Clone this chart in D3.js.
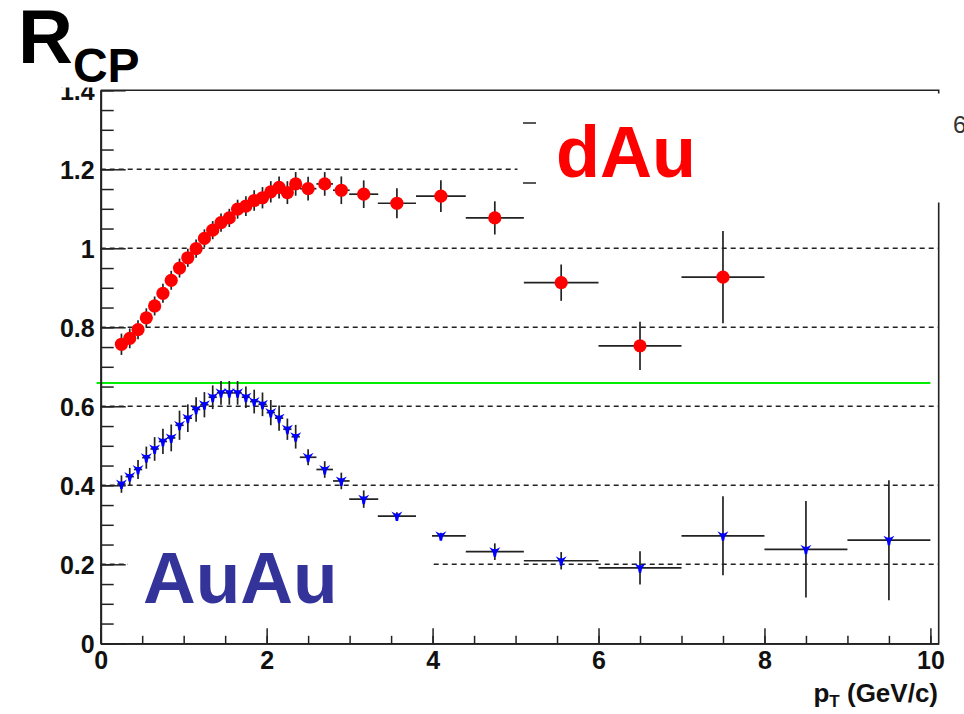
<!DOCTYPE html>
<html>
<head>
<meta charset="utf-8">
<script src="https://cdn.jsdelivr.net/npm/d3@7"></script>
<style>
  html, body { margin: 0; padding: 0; background: #fff; }
  svg { display: block; font-family: "Liberation Sans", Arial, Helvetica, sans-serif; }
</style>
</head>
<body>
<svg id="chart" width="964" height="714"></svg>
<script>
// ---- data -------------------------------------------------------------
// d+Au: bin centres (GeV/c), half bin widths, R_CP and statistical errors
const dauPt = [0.25,0.35,0.45,0.55,0.65,0.75,0.85,0.95,1.05,1.15,1.25,1.35,1.45,1.55,1.65,1.75,1.85,1.95,2.05,2.15,2.25,2.35,2.5,2.7,2.9,3.17,3.57,4.1,4.75,5.55,6.5,7.5];
const dauPtErr = [0.05,0.05,0.05,0.05,0.05,0.05,0.05,0.05,0.05,0.05,0.05,0.05,0.05,0.05,0.05,0.05,0.05,0.05,0.05,0.05,0.05,0.05,0.1,0.1,0.1,0.175,0.23,0.3,0.35,0.45,0.5,0.5];
const dauRcp = [0.757,0.772,0.794,0.824,0.854,0.886,0.919,0.950,0.976,0.999,1.025,1.046,1.065,1.077,1.099,1.107,1.121,1.128,1.143,1.154,1.141,1.163,1.151,1.163,1.147,1.137,1.114,1.132,1.077,0.913,0.753,0.927];
const dauErr = [0.027,0.025,0.024,0.024,0.024,0.024,0.024,0.024,0.023,0.023,0.023,0.023,0.023,0.023,0.024,0.025,0.026,0.027,0.027,0.028,0.029,0.030,0.030,0.030,0.035,0.035,0.038,0.040,0.042,0.046,0.061,0.117];

// Au+Au
const auPt = [0.25,0.35,0.45,0.55,0.65,0.75,0.85,0.95,1.05,1.15,1.25,1.35,1.45,1.55,1.65,1.75,1.85,1.95,2.05,2.15,2.25,2.35,2.5,2.7,2.9,3.17,3.57,4.1,4.75,5.55,6.5,7.5,8.5,9.5];
const auPtErr = [0.05,0.05,0.05,0.05,0.05,0.05,0.05,0.05,0.05,0.05,0.05,0.05,0.05,0.05,0.05,0.05,0.05,0.05,0.05,0.05,0.05,0.05,0.1,0.1,0.1,0.175,0.23,0.3,0.35,0.45,0.5,0.5,0.5,0.5];
const auRcp = [0.403,0.422,0.440,0.470,0.492,0.511,0.520,0.552,0.570,0.592,0.604,0.623,0.634,0.634,0.634,0.623,0.612,0.605,0.584,0.570,0.542,0.523,0.471,0.440,0.411,0.365,0.322,0.272,0.232,0.209,0.191,0.272,0.238,0.261];
const auErr = [0.022,0.022,0.024,0.028,0.030,0.032,0.034,0.037,0.035,0.031,0.032,0.030,0.030,0.030,0.030,0.027,0.030,0.030,0.032,0.032,0.027,0.030,0.020,0.021,0.021,0.022,0.010,0.008,0.021,0.022,0.042,0.100,0.122,0.152];

// axis ticks and reference level
const xMajor = [0,2,4,6,8,10];
const xMinor = d3.range(0, 10.01, 0.5);
const yMajor = [0,0.2,0.4,0.6,0.8,1.0,1.2,1.4];
const yMinor = d3.range(0, 1.401, 0.05);
const gridLevels = [0.2,0.4,0.6,0.8,1.0,1.2];
const refLevel = 0.659;

// ---- layout -----------------------------------------------------------
const svg = d3.select("#chart");
const x = d3.scaleLinear().domain([0, 10.1]).range([100.7, 938.7]);
const y = d3.scaleLinear().domain([0, 1.4]).range([643.3, 90.3]);
const [x0, x1] = x.range();
const [y0, y1] = y.range();
const ink = "#222";

// dashed horizontal grid
svg.append("g").selectAll("line").data(gridLevels).join("line")
  .attr("x1", x0).attr("x2", x1)
  .attr("y1", d => y(d)).attr("y2", d => y(d))
  .attr("stroke", ink).attr("stroke-width", 1.4)
  .attr("stroke-dasharray", "5,4");

// reference line
svg.append("line")
  .attr("x1", x(-0.05)).attr("x2", x(10.0))
  .attr("y1", y(refLevel)).attr("y2", y(refLevel))
  .attr("stroke", "#00ee00").attr("stroke-width", 2.2);

// frame (top and right)
svg.append("path")
  .attr("d", `M${x0},${y1}H${x1}V${y0}`)
  .attr("fill", "none").attr("stroke", ink).attr("stroke-width", 1.6);

// axes with ticks pointing into the frame
const fontTick = 25;
const xAxisMinor = d3.axisBottom(x).tickValues(xMinor).tickSize(-7.5).tickSizeOuter(0).tickFormat("");
const xAxisMajor = d3.axisBottom(x).tickValues(xMajor).tickSize(-15).tickSizeOuter(0).tickPadding(8)
  .tickFormat(d => String(d));
const yAxisMinor = d3.axisLeft(y).tickValues(yMinor).tickSize(-13).tickSizeOuter(0).tickFormat("");
const yAxisMajor = d3.axisLeft(y).tickValues(yMajor).tickSize(-25).tickSizeOuter(0).tickPadding(6)
  .tickFormat(d => String(+d.toFixed(1)));

function styleAxis(g) {
  g.selectAll("path").attr("stroke", ink).attr("stroke-width", 1.8);
  g.selectAll("line").attr("stroke", ink).attr("stroke-width", 1.5);
  g.selectAll("text").attr("fill", "#111").attr("font-weight", "bold")
    .attr("font-size", fontTick).attr("font-family", "'Liberation Sans', Arial, sans-serif");
}
svg.append("g").attr("transform", `translate(0,${y0})`).call(xAxisMinor).call(styleAxis);
svg.append("g").attr("transform", `translate(0,${y0})`).call(xAxisMajor).call(styleAxis)
  .selectAll("text").attr("dy", "0.72em");
svg.append("g").attr("transform", `translate(${x0},0)`).call(yAxisMinor).call(styleAxis);
svg.append("g").attr("transform", `translate(${x0},0)`).call(yAxisMajor).call(styleAxis)
  .selectAll("text").attr("dy", "0.36em");

// error bars
function drawErrors(pt, ptErr, val, err) {
  const g = svg.append("g").attr("stroke", ink).attr("stroke-width", 1.7);
  pt.forEach((p, i) => {
    g.append("line").attr("x1", x(p - ptErr[i])).attr("x2", x(p + ptErr[i]))
      .attr("y1", y(val[i])).attr("y2", y(val[i]));
    g.append("line").attr("x1", x(p)).attr("x2", x(p))
      .attr("y1", y(val[i] - err[i])).attr("y2", y(val[i] + err[i]));
  });
}
drawErrors(auPt, auPtErr, auRcp, auErr);
drawErrors(dauPt, dauPtErr, dauRcp, dauErr);

// Au+Au markers (small downward goblet shape)
const auMarker = "M-5.5,-4.5 L-1.8,-2.6 L1.8,-2.6 L5.5,-4.5 L2,0.8 L1.2,5 L-1.2,5 L-2,0.8 Z";
svg.append("g").selectAll("path").data(auPt).join("path")
  .attr("d", auMarker)
  .attr("transform", (d, i) => `translate(${x(d)},${y(auRcp[i])})`)
  .attr("fill", "#0000ff");

// d+Au markers
svg.append("g").selectAll("circle").data(dauPt).join("circle")
  .attr("cx", d => x(d)).attr("cy", (d, i) => y(dauRcp[i]))
  .attr("r", 6.6).attr("fill", "#ff0000");

// label boxes laid over the frame
svg.append("rect").attr("x", 517.5).attr("y", 93.5).attr("width", 430).attr("height", 109)
  .attr("fill", "#fff");
svg.append("rect").attr("x", 128).attr("y", 524).attr("width", 304).attr("height", 102)
  .attr("fill", "#fff");
svg.append("g").attr("stroke", ink).attr("stroke-width", 1.5).selectAll("line")
  .data([123, 183]).join("line")
  .attr("x1", 523).attr("x2", 536).attr("y1", d => d).attr("y2", d => d);

svg.append("text").attr("x", 556).attr("y", 177)
  .attr("font-size", 72).attr("font-weight", "bold").attr("fill", "#ff0000").text("dAu");
svg.append("text").attr("x", 143).attr("y", 603)
  .attr("font-size", 73).attr("font-weight", "bold").attr("fill", "#333399").text("AuAu");
svg.append("text").attr("x", 953).attr("y", 133)
  .attr("font-size", 24).attr("fill", "#333").text("6");

// title block sits over the top of the y axis labels
svg.append("rect").attr("x", 0).attr("y", 0).attr("width", 99).attr("height", 87.5).attr("fill", "#fff");
const title = svg.append("text").attr("x", 18).attr("y", 63).attr("font-weight", "bold").attr("fill", "#000");
title.append("tspan").attr("font-size", 76).text("R");
title.append("tspan").attr("font-size", 48).attr("dy", 19).text("CP");

// x axis title
const xt = svg.append("text").attr("x", 938).attr("y", 702).attr("text-anchor", "end")
  .attr("font-weight", "bold").attr("font-size", 26).attr("fill", "#111");
xt.append("tspan").text("p");
xt.append("tspan").attr("font-size", 17).attr("dy", 5).text("T");
xt.append("tspan").attr("dy", -5).text(" (GeV/c)");
</script>
</body>
</html>
